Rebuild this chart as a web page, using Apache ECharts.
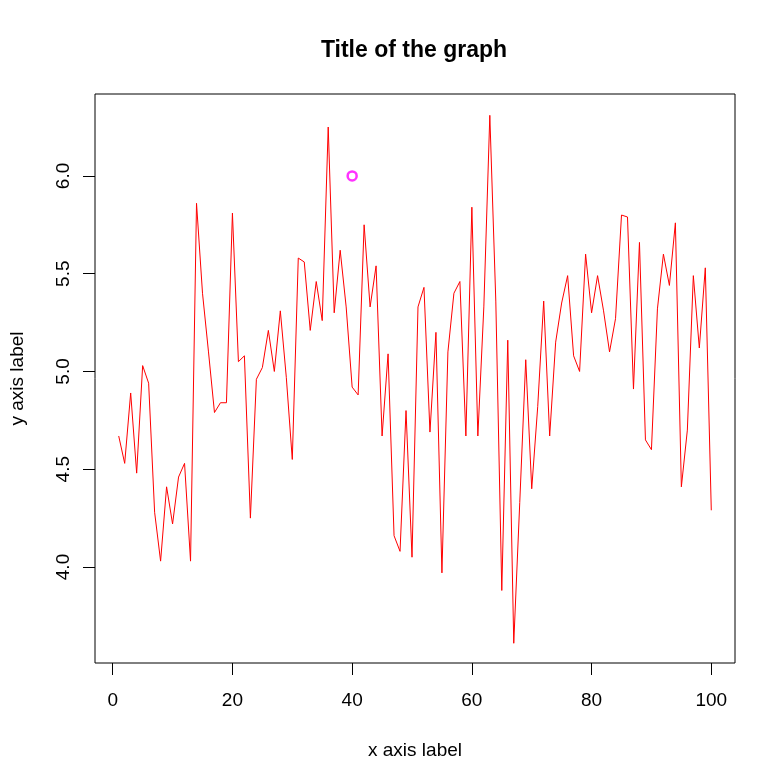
<!DOCTYPE html>
<html>
<head>
<meta charset="utf-8">
<script src="https://cdn.jsdelivr.net/npm/echarts@6.0.0/dist/echarts.min.js"></script>
<style>
  html, body { margin: 0; padding: 0; background: #fff; }
  #main { width: 783px; height: 782px; }
</style>
</head>
<body>
<div id="main"></div>
<script>
// values
var xs = [];
for (var i = 1; i <= 100; i++) xs.push(i);

var ys = [
  4.67, 4.53, 4.89, 4.48, 5.03, 4.94, 4.28, 4.03, 4.41, 4.22,
  4.46, 4.53, 4.03, 5.86, 5.40, 5.10, 4.79, 4.84, 4.84, 5.81,
  5.05, 5.08, 4.25, 4.96, 5.02, 5.21, 5.00, 5.31, 4.97, 4.55,
  5.58, 5.56, 5.21, 5.46, 5.26, 6.25, 5.30, 5.62, 5.33, 4.92,
  4.88, 5.75, 5.33, 5.54, 4.67, 5.09, 4.16, 4.08, 4.80, 4.05,
  5.33, 5.43, 4.69, 5.20, 3.97, 5.10, 5.40, 5.46, 4.67, 5.84,
  4.67, 5.33, 6.31, 5.36, 3.88, 5.16, 3.61, 4.33, 5.06, 4.40,
  4.82, 5.36, 4.67, 5.15, 5.35, 5.49, 5.08, 5.00, 5.60, 5.30,
  5.49, 5.31, 5.10, 5.27, 5.80, 5.79, 4.91, 5.66, 4.65, 4.60,
  5.32, 5.60, 5.44, 5.76, 4.41, 4.70, 5.49, 5.12, 5.53, 4.29
];

var markPoint = [[40, 6.0]];

var xTicks = [0, 20, 40, 60, 80, 100];
var yTicks = [4.0, 4.5, 5.0, 5.5, 6.0];

var lineData = xs.map(function (x, k) { return [x, ys[k]]; });

var myChart = echarts.init(document.getElementById('main'));

var font = 'Liberation Sans, Arial, sans-serif';

var option = {
    animation: false,
    backgroundColor: '#fff',
    title: {
        text: 'Title of the graph',
        left: 414,
        top: 39,
        padding: 0,
        textAlign: 'center',
        textStyle: {
            fontFamily: font,
            fontSize: 23,
            fontWeight: 'bold',
            color: '#000'
        }
    },
    grid: {
        left: 95,
        right: 48,
        top: 94,
        bottom: 119,
        outerBoundsMode: 'none',
        containLabel: false,
        show: true,
        borderColor: '#000',
        borderWidth: 1,
        backgroundColor: 'transparent'
    },
    xAxis: {
        type: 'value',
        min: -2.96,
        max: 103.96,
        name: 'x axis label',
        nameLocation: 'middle',
        nameGap: 78,
        nameMoveOverlap: false,
        nameTextStyle: { fontFamily: font, fontSize: 19, color: '#000' },
        splitLine: { show: false },
        axisLine: { show: false, onZero: false },
        axisTick: {
            show: true,
            length: 12,
            customValues: xTicks,
            lineStyle: { color: '#000' }
        },
        axisLabel: {
            customValues: xTicks,
            margin: 28,
            fontFamily: font,
            fontSize: 19,
            color: '#000'
        }
    },
    yAxis: {
        type: 'value',
        min: 3.509,
        max: 6.419,
        name: 'y axis label',
        nameLocation: 'middle',
        nameGap: 68,
        nameMoveOverlap: false,
        nameTextStyle: { fontFamily: font, fontSize: 19, color: '#000' },
        splitLine: { show: false },
        axisLine: { show: false, onZero: false },
        axisTick: {
            show: true,
            length: 12,
            customValues: yTicks,
            lineStyle: { color: '#000' }
        },
        axisLabel: {
            customValues: yTicks,
            rotate: 90,
            margin: 22,
            fontFamily: font,
            fontSize: 19,
            color: '#000',
            formatter: function (v) { return v.toFixed(1); }
        }
    },
    series: [
        {
            type: 'line',
            data: lineData,
            symbol: 'none',
            lineStyle: { color: '#ff0000', width: 1 },
            z: 2
        },
        {
            type: 'scatter',
            data: markPoint,
            symbol: 'circle',
            symbolSize: 9,
            itemStyle: {
                color: 'transparent',
                borderColor: '#ff00ff',
                borderWidth: 2.5
            },
            z: 3
        }
    ]
};

myChart.setOption(option);

window.onresize = function () {
    myChart.resize();
};
</script>
</body>
</html>
